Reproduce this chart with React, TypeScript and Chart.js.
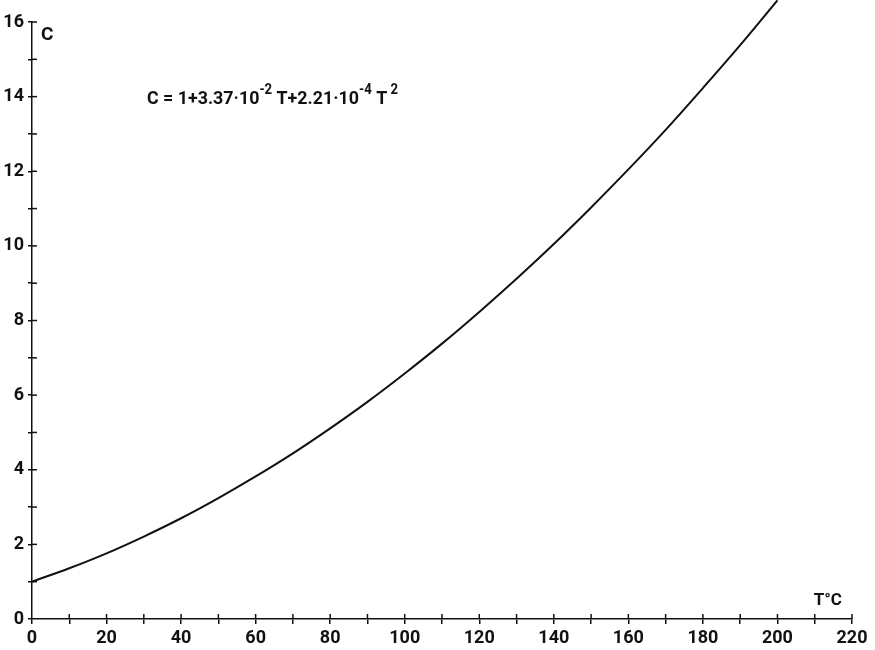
import React, { useEffect, useRef } from "react";
import { Chart, registerables } from "chart.js";

Chart.register(...registerables);

// Temperature T (°C)
const temperatures = [0, 10, 20, 30, 40, 50, 60, 70, 80, 90, 100, 110, 120, 130, 140, 150, 160, 170, 180, 190, 200];
// C values
const cValues = [1.0, 1.36, 1.76, 2.21, 2.7, 3.24, 3.82, 4.44, 5.11, 5.82, 6.58, 7.38, 8.23, 9.12, 10.05, 11.03, 12.05, 13.11, 14.23, 15.38, 16.58];

const xTickLabels = [0, 20, 40, 60, 80, 100, 120, 140, 160, 180, 200, 220];
const yTickLabels = [0, 2, 4, 6, 8, 10, 12, 14, 16];
const xAxisTitle = "T°C";
const yAxisTitle = "C";
const formulaParts = [
  { text: "C = 1+3.37·10", sup: false },
  { text: "-2", sup: true },
  { text: " T+2.21·10", sup: false },
  { text: "-4", sup: true },
  { text: " T", sup: false },
  { text: " 2", sup: true },
];

const INK = "#111111";
const FONT = "Roboto";

const overlayPlugin = {
  id: "overlay",
  afterDraw(chart: any) {
    const ctx = chart.ctx as CanvasRenderingContext2D;
    const xs = chart.scales.x;
    const ys = chart.scales.y;
    const area = chart.chartArea;
    ctx.save();
    ctx.strokeStyle = INK;
    ctx.lineWidth = 1.5;
    // inward half of the crossing tick marks
    for (let v = 10; v <= 220; v += 10) {
      const px = xs.getPixelForValue(v);
      ctx.beginPath();
      ctx.moveTo(px, area.bottom);
      ctx.lineTo(px, area.bottom - 5);
      ctx.stroke();
    }
    for (let v = 1; v <= 16; v += 1) {
      const py = ys.getPixelForValue(v);
      ctx.beginPath();
      ctx.moveTo(area.left, py);
      ctx.lineTo(area.left + 5, py);
      ctx.stroke();
    }
    ctx.fillStyle = INK;
    // axis titles
    ctx.font = `bold 19px ${FONT}`;
    ctx.textBaseline = "middle";
    ctx.textAlign = "left";
    ctx.fillText(yAxisTitle, area.left + 9, ys.getPixelForValue(15.65));
    ctx.textAlign = "center";
    ctx.font = `bold 17px ${FONT}`;
    ctx.fillText(xAxisTitle, xs.getPixelForValue(213.5), area.bottom - 18);

    // formula with superscripts
    const mainFont = `bold 19px ${FONT}`;
    const supFont = `bold 14px ${FONT}`;
    let total = 0;
    for (const p of formulaParts) {
      ctx.font = p.sup ? supFont : mainFont;
      total += ctx.measureText(p.text).width;
    }
    const targetWidth = 251;
    const sx = targetWidth / total;
    const startX = 147;
    const baseY = ys.getPixelForValue(14) + 7;
    ctx.translate(startX, baseY);
    ctx.scale(sx, 1);
    ctx.textAlign = "left";
    ctx.textBaseline = "alphabetic";
    let cx = 0;
    for (const p of formulaParts) {
      ctx.font = p.sup ? supFont : mainFont;
      ctx.fillText(p.text, cx, p.sup ? -10 : 0);
      cx += ctx.measureText(p.text).width;
    }
    ctx.restore();
  },
};

export default function App() {
  const canvasRef = useRef<HTMLCanvasElement | null>(null);

  useEffect(() => {
    document.body.style.margin = "0";
    const canvas = canvasRef.current;
    if (!canvas) return;
    const points = temperatures.map((t, i) => ({ x: t, y: cValues[i] }));
    const chart = new Chart(canvas, {
      type: "line",
      data: {
        datasets: [
          {
            data: points,
            borderColor: INK,
            borderWidth: 2,
            pointRadius: 0,
            tension: 0.4,
            fill: false,
            clip: false as any,
          },
        ],
      },
      options: {
        animation: false,
        responsive: false,
        maintainAspectRatio: false,
        layout: { padding: { top: 22, right: 23, left: 0, bottom: 0 } },
        plugins: { legend: { display: false }, tooltip: { enabled: false } },
        scales: {
          x: {
            type: "linear",
            min: 0,
            max: 220,
            afterFit: (scale: any) => {
              scale.height = 31;
            },
            ticks: {
              stepSize: 10,
              autoSkip: false,
              maxRotation: 0,
              padding: 4,
              color: INK,
              font: { family: FONT, weight: "bold", size: 18 },
              callback: (v: any) => (xTickLabels.includes(Number(v)) ? String(v) : ""),
            },
            grid: { drawOnChartArea: false, drawTicks: true, tickLength: 5, color: INK, lineWidth: 1.5 },
            border: { display: true, color: INK, width: 1.5 },
          },
          y: {
            type: "linear",
            min: 0,
            max: 16,
            afterFit: (scale: any) => {
              scale.width = 32;
            },
            ticks: {
              stepSize: 1,
              autoSkip: false,
              padding: 4,
              color: INK,
              font: { family: FONT, weight: "bold", size: 18 },
              callback: (v: any) => (yTickLabels.includes(Number(v)) ? String(v) : ""),
            },
            grid: { drawOnChartArea: false, drawTicks: true, tickLength: 4, color: INK, lineWidth: 1.5 },
            border: { display: true, color: INK, width: 1.5 },
          },
        },
      },
      plugins: [overlayPlugin],
    });
    return () => chart.destroy();
  }, []);

  return (
    <div style={{ position: "absolute", left: 0, top: 0, width: 875, height: 650, background: "#fff" }}>
      <canvas ref={canvasRef} width={875} height={650} />
    </div>
  );
}
